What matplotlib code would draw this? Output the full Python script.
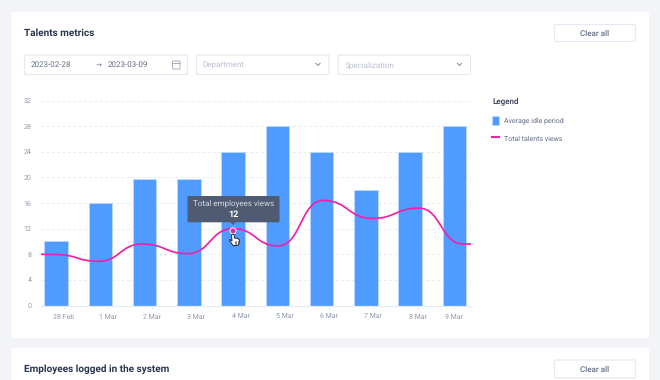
import matplotlib
matplotlib.use("Agg")
import matplotlib.pyplot as plt
from matplotlib.patches import FancyBboxPatch, PathPatch, Polygon, Circle
from matplotlib.path import Path
from matplotlib.lines import Line2D

plt.rcParams['font.family'] = ['Roboto', 'DejaVu Sans']
plt.rcParams['text.hinting'] = 'none'
plt.rcParams['text.hinting_factor'] = 1

# ---- data ----
categories = ['28 Feb', '1 Mar', '2 Mar', '3 Mar', '4 Mar', '5 Mar', '6 Mar', '7 Mar', '8 Mar', '9 Mar']
idle_period = [10, 16, 19.8, 19.8, 24, 28, 24, 18, 24, 28]
tick_positions = [0.17, 1.17, 2.17, 3.17, 4.17, 5.17, 6.17, 7.17, 8.17, 9.0]
views_x = [-0.34, 0.0, 0.95, 1.95, 2.97, 4.0, 5.02, 6.04, 7.15, 8.2, 9.2, 9.37]
views_y = [8.0, 7.95, 6.9, 9.6, 8.1, 12.0, 9.3, 16.4, 13.6, 15.2, 9.6, 9.6]
y_ticks = [0, 4, 8, 12, 16, 20, 24, 28, 32]

BLUE = '#4f9bff'
PINK = '#ee22a8'
DARK = '#2a3550'
MID = '#646f86'
LIGHT = '#8f98ac'
FAINT = '#bcc2d0'
BORDER = '#e6e9f1'
BG = '#f3f4f8'

W, H = 660, 380
fig = plt.figure(figsize=(W / 100, H / 100), dpi=100, facecolor=BG)


def pixel_axes(z):
    a = fig.add_axes([0, 0, 1, 1], zorder=z)
    a.set_xlim(0, W)
    a.set_ylim(H, 0)
    a.axis('off')
    a.patch.set_alpha(0)
    return a


back = pixel_axes(0)
top = pixel_axes(3)


def box(a, x0, y0, x1, y1, fc='white', ec=BORDER, r=1.5, lw=0.9, **kw):
    a.add_patch(FancyBboxPatch((x0, y0), x1 - x0, y1 - y0,
                               boxstyle=f'round,pad=0,rounding_size={r}',
                               fc=fc, ec=ec, lw=lw, **kw))


# cards
box(back, 11.5, 12, 649, 338, ec='none', lw=0)
box(back, 11.5, 348, 649, 392, ec='none', lw=0)

# titles
back.text(24, 33, 'Talents metrics', fontsize=7.1, fontweight='bold', color=DARK, va='center')
back.text(24, 369, 'Employees logged in the system', fontsize=7.1, fontweight='bold', color=DARK, va='center')

# buttons
for y0, y1 in [(24.5, 41.5), (360, 378)]:
    box(back, 554.5, y0, 635.5, y1)
    back.text(595, (y0 + y1) / 2 + 0.3, 'Clear all', fontsize=5.8, fontweight='medium', color=MID, ha='center', va='center')

# filters
box(back, 24.5, 55, 187.5, 74.5)
back.text(30.5, 65, '2023-02-28', fontsize=5.65, color=MID, va='center')
back.text(99, 65, '→', fontsize=5, color=MID, va='center', ha='center', family='DejaVu Sans')
back.text(108, 65, '2023-03-09', fontsize=5.65, color=MID, va='center')
box(back, 172.5, 61, 180, 69, fc='white', ec='#a9afbf', r=0.8, lw=0.7)
back.plot([172.5, 180], [63.3, 63.3], color='#a9afbf', lw=0.7)
for x0, x1, label in [(196.5, 329, 'Department'), (338, 470.5, 'Specialization')]:
    box(back, x0, 55, x1, 74.5)
    back.text(x0 + 6.3, 65.3, label, fontsize=5.7, color=FAINT, va='center')
    cx = x1 - 11
    back.plot([cx - 2.1, cx, cx + 2.1], [63.4, 65.4, 63.4], color='#8f96a8', lw=0.8)

# chart
ax = fig.add_axes([41 / W, 1 - 305.5 / H, (470.7 - 41) / W, (305.5 - 100.5) / H], zorder=1)
ax.patch.set_alpha(0)
bars = ax.bar(range(len(categories)), idle_period, width=0.53, color=BLUE,
              edgecolor='#bcd9ff', linewidth=0.6, zorder=2, label='Average idle period')
ax.set_xlim(-0.34, 9.37)
ax.set_ylim(0, 32)
ax.set_yticks(y_ticks)
ax.set_xticks(tick_positions)
ax.set_xticklabels(categories)
ax.grid(axis='y', color='#e9ebf1', linestyle=(0, (3, 2.5)), linewidth=0.7, zorder=1)
ax.set_axisbelow(True)
for s in ['top', 'right', 'left']:
    ax.spines[s].set_visible(False)
ax.spines['bottom'].set_color(BORDER)
ax.spines['bottom'].set_linewidth(0.9)
ax.tick_params(axis='y', length=0, pad=7, labelsize=5.4, labelcolor=LIGHT)
ax.tick_params(axis='x', length=2, width=0.7, color=BORDER, pad=3.8, labelsize=5.4, labelcolor=LIGHT)

# smooth line: horizontal tangents at every reading
verts = [(views_x[0], views_y[0])]
codes = [Path.MOVETO]
for i in range(1, len(views_x)):
    x0, x1 = views_x[i - 1], views_x[i]
    mx = (x0 + x1) / 2
    verts += [(mx, views_y[i - 1]), (mx, views_y[i]), (x1, views_y[i])]
    codes += [Path.CURVE4] * 3
ax.add_patch(PathPatch(Path(verts, codes), fc='none', ec=PINK, lw=1.25, zorder=3, capstyle='round'))

# legend
line_handle = Line2D([], [], color=PINK, lw=1.5)
leg = ax.legend([bars, line_handle], ['Average idle period', 'Total talents views'],
                title='Legend', loc='upper left',
                bbox_to_anchor=(492 / W, 1 - 97.5 / H), bbox_transform=fig.transFigure,
                frameon=False, fontsize=5.0, handlelength=1.05, handleheight=1.53,
                handletextpad=0.72, labelspacing=1.3, borderpad=0, borderaxespad=0,
                alignment='left', labelcolor=MID)
leg.get_title().set_fontsize(5.9)
leg.get_title().set_fontweight('medium')
leg.get_title().set_color(DARK)
leg._legend_box.sep = 8.0

# tooltip
box(top, 187.5, 196, 279.5, 222.3, fc='#4f5b73', ec='none', lw=0, r=1.5)
top.add_patch(Polygon([(230, 222), (236, 222), (233, 225)], fc='#4f5b73', ec='none'))
top.text(233.3, 203, 'Total employees views', fontsize=6.1, color='#d5d9e2', ha='center', va='center')
top.text(233.3, 215, '12', fontsize=6.2, fontweight='bold', color='white', ha='center', va='center')
top.add_patch(Circle((233, 230.8), 3, fc=PINK, ec='white', lw=0.7))

# cursor
top.add_patch(Polygon([(231.5, 235), (233, 234), (234.3, 235), (234.5, 238), (238, 238.5), (239.5, 240),
                       (239, 244), (237.5, 245.5), (233, 245.5), (229.5, 240.5), (230, 239.5), (232, 241)],
                      fc='white', ec='#222a38', lw=0.7, joinstyle='round'))
for x in (234.8, 236.2, 237.6):
    top.plot([x, x], [240.5, 243.5], color='#222a38', lw=0.4)

fig.savefig('out.png', dpi=100, facecolor=BG)
